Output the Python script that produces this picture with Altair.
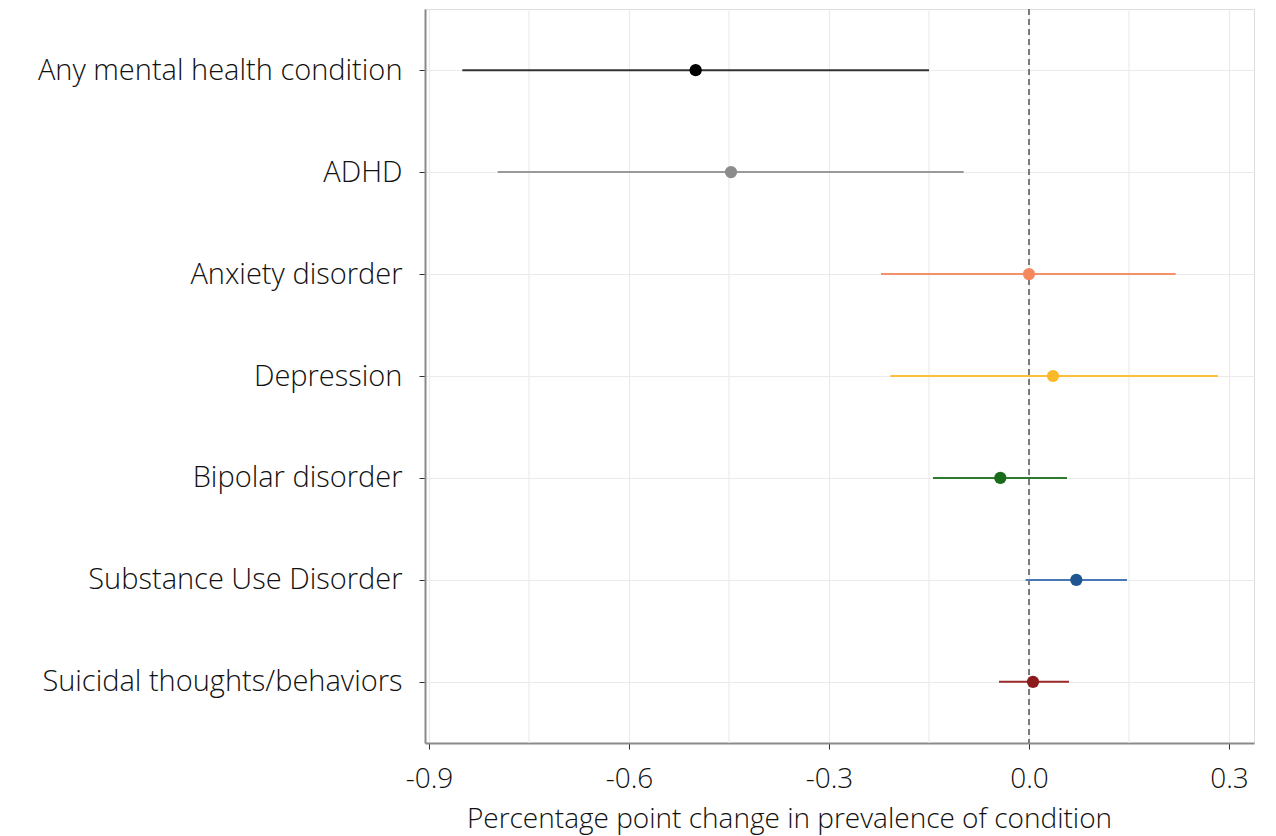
import altair as alt
import pandas as pd

conditions = [
    "Any mental health condition",
    "ADHD",
    "Anxiety disorder",
    "Depression",
    "Bipolar disorder",
    "Substance Use Disorder",
    "Suicidal thoughts/behaviors",
]
estimates = [-0.500, -0.447, 0.000, 0.036, -0.043, 0.071, 0.006]
lower = [-0.850, -0.797, -0.222, -0.208, -0.144, -0.005, -0.045]
upper = [-0.150, -0.098, 0.220, 0.283, 0.057, 0.147, 0.060]
point_colors = ["#000000", "#8c8c8c", "#f4895f", "#fbb829", "#1a6b1a", "#1f5591", "#8c1c1c"]
line_colors = ["#333333", "#9a9a9a", "#f4916a", "#fbbf3a", "#2e7a2e", "#4a78b5", "#9b2a2a"]
x_ticks = [-0.9, -0.6, -0.3, 0.0, 0.3]
minor_grid = [-0.75, -0.45, -0.15, 0.15]
ref_line = [0.0]

FONT = "Open Sans"

df = pd.DataFrame({
    "condition": conditions,
    "estimate": estimates,
    "lower": lower,
    "upper": upper,
    "line_color": line_colors,
    "point_color": point_colors,
})

x_scale = alt.Scale(domain=[-0.906, 0.3375], nice=False, zero=False)
y_scale = alt.Scale(type="point", domain=conditions, padding=0.6)

y_enc = alt.Y(
    "condition:N",
    scale=y_scale,
    sort=conditions,
    title=None,
    axis=alt.Axis(
        labelFontSize=29,
        labelFont=FONT,
        labelFontWeight=300,
        labelColor="#111111",
        labelPadding=17,
        labelLimit=500,
        tickSize=6,
        tickColor="#333333",
        domain=True,
        domainColor="#8a8a8a",
        domainWidth=2,
        grid=True,
        gridColor="#ebebeb",
        gridWidth=1.2,
    ),
)

x_axis = alt.Axis(
    values=x_ticks,
    labelExpr="(datum.value < 0 ? '-' : '') + format(abs(datum.value), '.1f')",
    labelFontSize=28,
    labelFont=FONT,
    labelFontWeight=300,
    labelColor="#111111",
    labelPadding=16,
    tickSize=6,
    tickColor="#333333",
    domain=True,
    domainColor="#8a8a8a",
    domainWidth=2,
    grid=True,
    gridColor="#ebebeb",
    gridWidth=1.2,
    title="Percentage point change in prevalence of condition",
    titleFont=FONT,
    titleFontWeight=300,
    titleFontSize=28,
    titleColor="#111111",
    titleX=364,
    titleY=84,
    titleAlign="center",
    titleBaseline="alphabetic",
)

minor = alt.Chart(pd.DataFrame({"v": minor_grid})).mark_rule(
    color="#ebebeb", strokeWidth=1.2
).encode(x=alt.X("v:Q", scale=x_scale, axis=x_axis))

zero = alt.Chart(pd.DataFrame({"v": ref_line})).mark_rule(
    color="#7a7a7a", strokeWidth=2, strokeDash=[6, 4]
).encode(x=alt.X("v:Q", scale=x_scale))

bars = alt.Chart(df).mark_rule(strokeWidth=2).encode(
    x=alt.X("lower:Q", scale=x_scale, axis=x_axis),
    x2="upper:Q",
    y=y_enc,
    color=alt.Color("line_color:N", scale=None, legend=None),
)

points = alt.Chart(df).mark_circle(size=150, opacity=1).encode(
    x=alt.X("estimate:Q", scale=x_scale, axis=x_axis),
    y=y_enc,
    color=alt.Color("point_color:N", scale=None, legend=None),
)

chart = alt.layer(minor, zero, bars, points).properties(
    width=829,
    height=734,
    autosize=alt.AutoSizeParams(type="none"),
    padding={"left": 417, "top": 1, "right": 14, "bottom": 92},
).configure_view(
    stroke="#999999", strokeWidth=1.5
).configure(background="white")

chart.save("out.html", embed_options={"renderer": "svg", "actions": False})
